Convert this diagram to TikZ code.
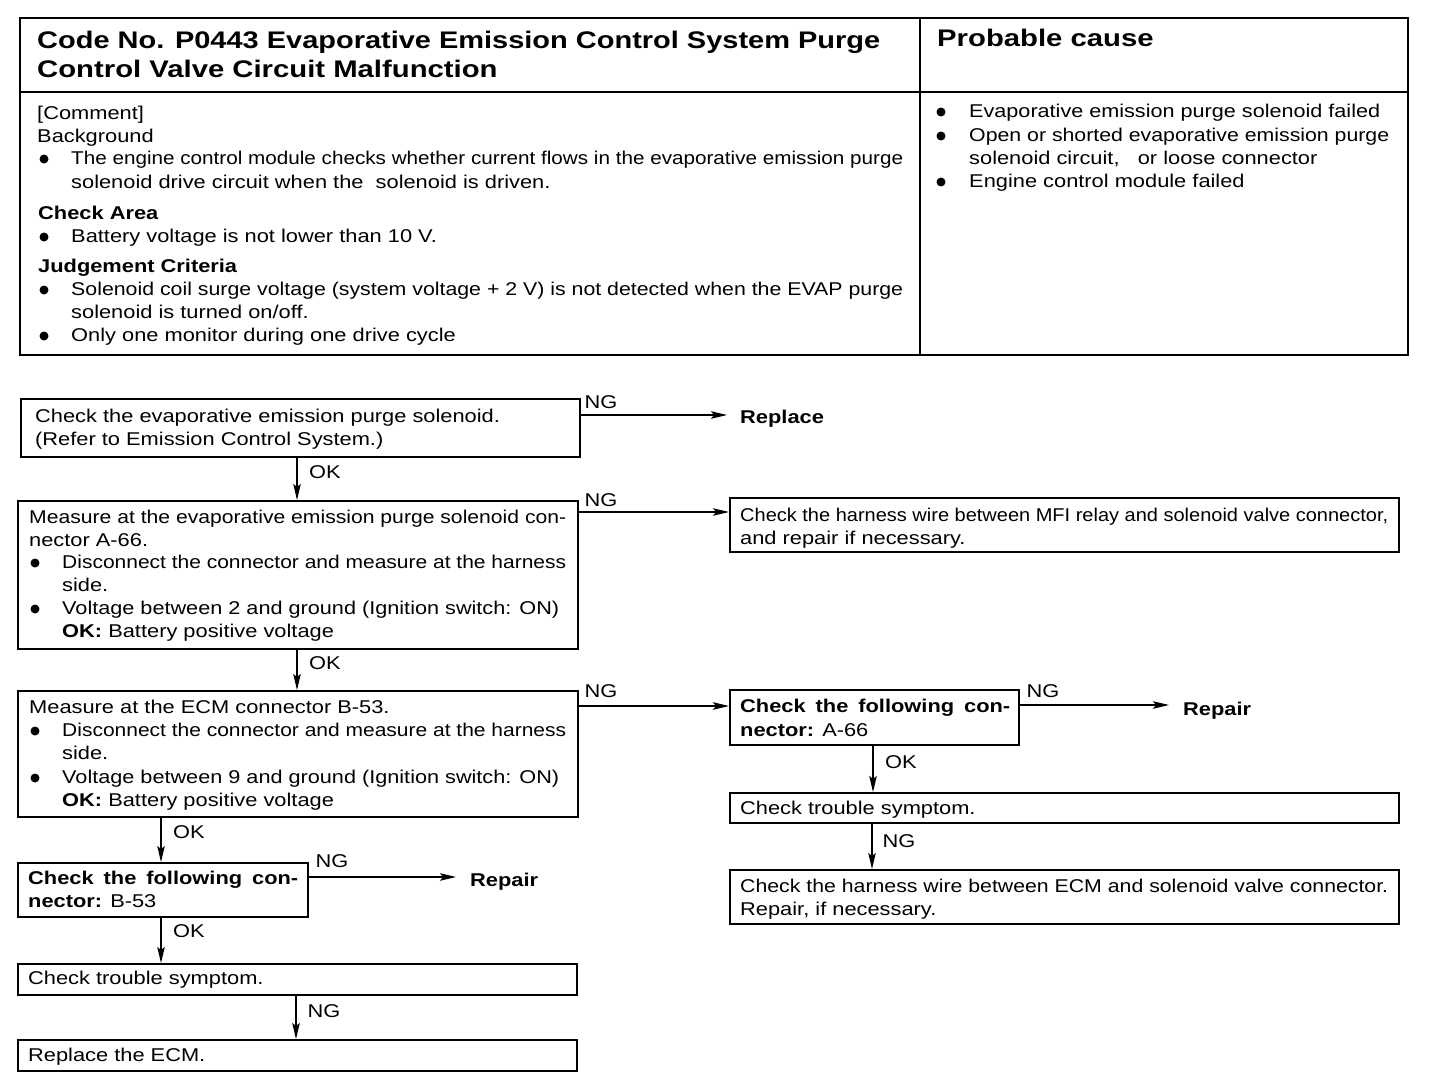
\documentclass[tikz,border=0pt]{standalone}
\usepackage{fontspec}
\setmainfont{Liberation Sans}[FakeStretch=1.18]
\newfontfamily\titlefont{Liberation Sans}[FakeStretch=1.22]
\usepackage{graphicx}
\usetikzlibrary{arrows.meta}
\newsavebox\fitbox
\newcommand\fitline[2]{\sbox\fitbox{#2}\ifdim\wd\fitbox>#1\relax\resizebox{#1}{\height}{\usebox\fitbox}\else\makebox[#1][s]{#2}\fi}
\newcommand\TL[5]{\node[txt] (#1) at (#2,#3) {\fitline{#4pt}{#5}};}
\newcommand\TN[4]{\node[txt] (#1) at (#2,#3) {#4};}
\newcommand\BU[3]{\node[bul] (#1) at (#2,#3) {};}
\tikzset{
  txt/.style={anchor=base west, inner sep=0pt, font=\fontsize{18.5}{20}\selectfont},
  ttl/.style={anchor=base west, inner sep=0pt, font=\titlefont\fontsize{24}{28}\selectfont\bfseries},
  lbl/.style={inner sep=0pt, font=\fontsize{18.5}{20}\selectfont},
  bul/.style={circle, fill, inner sep=0pt, minimum size=9pt},
  box/.style={draw, line width=1.5pt, anchor=north west, inner sep=0pt},
  arr/.style={line width=1.3pt, -{Stealth[length=16pt,width=7.5pt,inset=3pt]}}
}
\begin{document}
\begin{tikzpicture}[x=1pt,y=-1pt]
\useasboundingbox[fill=white] (0,0) rectangle (1456,1092);
% ---------- table ----------
\node[box, line width=2.2pt, minimum width=1388pt, minimum height=337pt] (TB) at (19,17) {};
\draw[line width=1.8pt] (TB.west |- 0,92) -- (TB.east |- 0,92);
\draw[line width=1.8pt] (920,0 |- TB.north) -- (920,0 |- TB.south);
\node[ttl] (H1) at (37,48) {\fitline{843pt}{Code No. P0443 Evaporative Emission Control System Purge}};
\node[ttl] (H2) at (37,77) {Control Valve Circuit Malfunction};
\node[ttl] (H3) at (937,46) {Probable cause};
\TN{t1}{37}{119}{[Comment]}
\TN{t2}{37}{142}{Background}
\BU{u1}{44}{159}
\TL{t3}{71}{164}{832}{The engine control module checks whether current flows in the evaporative emission purge}
\TN{t4}{71}{188}{solenoid drive circuit when the\ \ solenoid is driven.}
\TN{t5}{38}{219}{\bfseries Check Area}
\BU{u2}{44}{237}
\TN{t6}{71}{242}{Battery voltage is not lower than 10 V.}
\TN{t7}{38}{272}{\bfseries Judgement Criteria}
\BU{u3}{44}{290}
\TL{t8}{71}{295}{832}{Solenoid coil surge voltage (system voltage + 2 V) is not detected when the EVAP purge}
\TN{t9}{71}{318}{solenoid is turned on/off.}
\BU{u4}{44}{336}
\TN{t10}{71}{341}{Only one monitor during one drive cycle}
\BU{u5}{941}{112}
\TL{r1}{969}{117}{411}{Evaporative emission purge solenoid failed}
\BU{u6}{941}{136}
\TL{r2}{969}{141}{420}{Open or shorted evaporative emission purge}
\TN{r3}{969}{164}{solenoid circuit,\ \ \ or loose connector}
\BU{u7}{941}{182}
\TN{r4}{969}{187}{Engine control module failed}
% ---------- flow boxes ----------
\node[box, line width=2.4pt, minimum width=559pt, minimum height=58pt] (B1) at (20,398) {};
\node[box, minimum width=560pt, minimum height=148pt] (B2) at (17,500) {};
\node[box, minimum width=669pt, minimum height=54pt] (B3) at (729,497) {};
\node[box, minimum width=560pt, minimum height=126pt] (B4) at (17,690) {};
\node[box, minimum width=289pt, minimum height=55pt] (B5) at (729,689) {};
\node[box, minimum width=669pt, minimum height=30pt] (B6) at (729,792) {};
\node[box, minimum width=669pt, minimum height=54pt] (B7) at (729,869) {};
\node[box, minimum width=290pt, minimum height=54pt] (B8) at (17,862) {};
\node[box, minimum width=559pt, minimum height=31pt] (B9) at (17,963) {};
\node[box, minimum width=559pt, minimum height=31pt] (B10) at (17,1039) {};
% box texts
\TN{a1}{35}{422}{Check the evaporative emission purge solenoid.}
\TN{a2}{35}{445}{(Refer to Emission Control System.)}
\TL{b1}{29}{523}{537}{Measure at the evaporative emission purge solenoid con-}
\TN{b2}{29}{546}{nector A-66.}
\BU{u8}{35}{563}
\TL{b3}{62}{568}{504}{Disconnect the connector and measure at the harness}
\TN{b4}{62}{591}{side.}
\BU{u9}{35}{609}
\TL{b5}{62}{614}{497}{Voltage between 2 and ground (Ignition switch: ON)}
\TN{b6}{62}{637}{\textbf{OK:} Battery positive voltage}
\TL{c1}{740}{521}{648}{Check the harness wire between MFI relay and solenoid valve connector,}
\TN{c2}{740}{544}{and repair if necessary.}
\TN{d1}{29}{713}{Measure at the ECM connector B-53.}
\BU{u10}{35}{731}
\TL{d2}{62}{736}{504}{Disconnect the connector and measure at the harness}
\TN{d3}{62}{759}{side.}
\BU{u11}{35}{778}
\TL{d4}{62}{783}{497}{Voltage between 9 and ground (Ignition switch: ON)}
\TN{d5}{62}{806}{\textbf{OK:} Battery positive voltage}
\TL{e1}{740}{712}{270}{\bfseries Check the following con-}
\TN{e2}{740}{736}{\textbf{nector:} A-66}
\TN{f1}{740}{814}{Check trouble symptom.}
\TL{g1}{740}{892}{648}{Check the harness wire between ECM and solenoid valve connector.}
\TN{g2}{740}{915}{Repair, if necessary.}
\TL{h1}{28}{884}{270}{\bfseries Check the following con-}
\TN{h2}{28}{907}{\textbf{nector:} B-53}
\TN{i1}{28}{984}{Check trouble symptom.}
\TN{j1}{28}{1061}{Replace the ECM.}
% end texts
\TN{rep1}{740}{423}{\bfseries Replace}
\TN{rep2}{1183}{715}{\bfseries Repair}
\TN{rep3}{470}{886}{\bfseries Repair}
% ---------- connectors ----------
\draw[arr, shorten >=13pt] (B1.east |- 0,415) -- (rep1.west |- 0,415);
\draw[arr] (B2.east |- 0,512) -- (B3.west |- 0,512);
\draw[arr] (B4.east |- 0,706) -- (B5.west |- 0,706);
\draw[arr, shorten >=14pt] (B5.east |- 0,705) -- (rep2.west |- 0,705);
\draw[arr, shorten >=14pt] (B8.east |- 0,877) -- (rep3.west |- 0,877);
\draw[arr] (297,0 |- B1.south) -- (297,0 |- B2.north);
\draw[arr] (297,0 |- B2.south) -- (297,0 |- B4.north);
\draw[arr] (161,0 |- B4.south) -- (161,0 |- B8.north);
\draw[arr] (161,0 |- B8.south) -- (161,0 |- B9.north);
\draw[arr] (296,0 |- B9.south) -- (296,0 |- B10.north);
\draw[arr] (873,0 |- B5.south) -- (873,0 |- B6.north);
\draw[arr] (872,0 |- B6.south) -- (872,0 |- B7.north);
% labels
\node[lbl] (n1) at (601,402) {NG};
\node[lbl] (n2) at (601,500) {NG};
\node[lbl] (n3) at (601,691) {NG};
\node[lbl] (n4) at (1043,691) {NG};
\node[lbl] (n5) at (899,841) {NG};
\node[lbl] (n6) at (332,861) {NG};
\node[lbl] (n7) at (324,1011) {NG};
\node[lbl] (o1) at (325,472) {OK};
\node[lbl] (o2) at (325,663) {OK};
\node[lbl] (o3) at (901,762) {OK};
\node[lbl] (o4) at (189,832) {OK};
\node[lbl] (o5) at (189,931) {OK};
\end{tikzpicture}
\end{document}
